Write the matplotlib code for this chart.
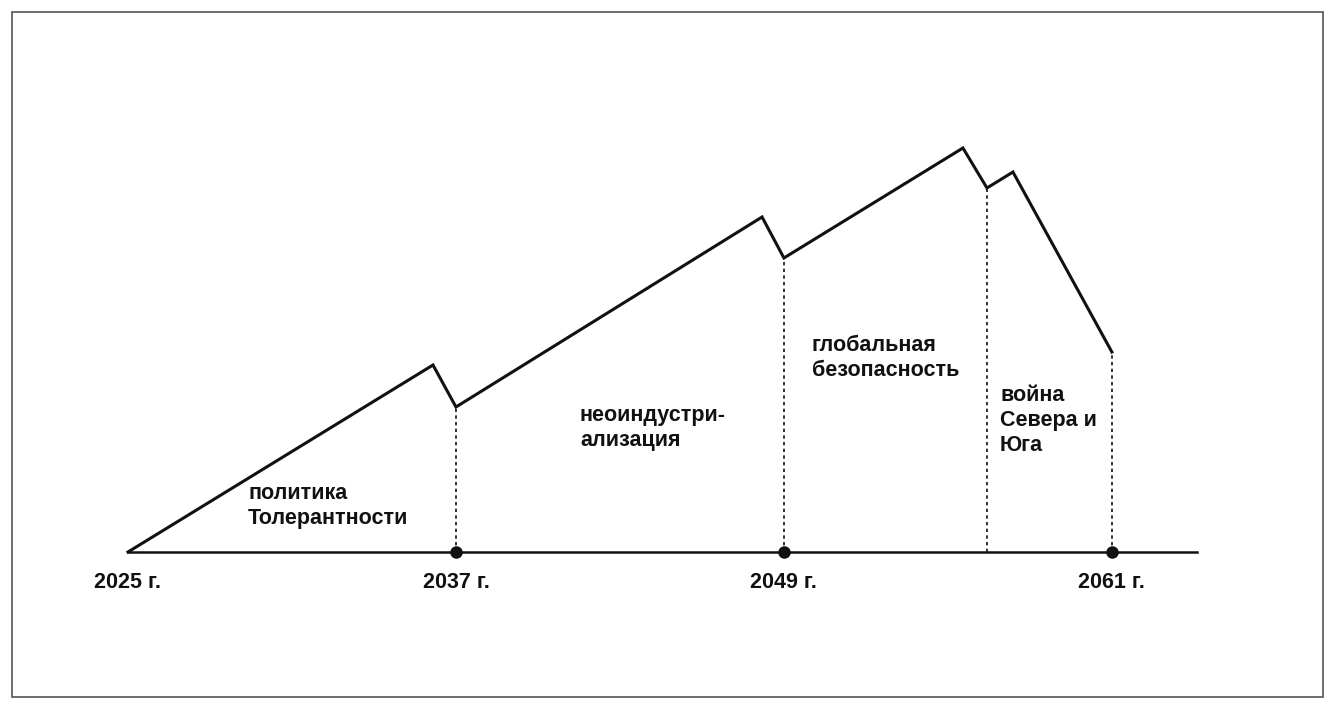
import matplotlib
matplotlib.use("Agg")
import matplotlib.pyplot as plt
from matplotlib.patches import Rectangle

years = [2025, 2036.16, 2037, 2048.2, 2049, 2055.55, 2056.43, 2057.38, 2061]
values = [0, 187, 145, 335, 294, 404, 364, 380, 200]
dotted_years = [2037, 2049, 2056.43, 2061]
dotted_tops = [145, 294, 364, 200]
marker_years = [2037, 2049, 2061]
tick_years = [2025, 2037, 2049, 2061]
tick_labels = ["2025 г.", "2037 г.", "2049 г.", "2061 г."]
phase_labels = ["политика\nТолерантности", "неоиндустри-\nализация",
                "глобальная\nбезопасность", "война\nСевера и\nЮга"]
phase_pos = [(248, 483), (580, 405), (812, 335), (1000, 385)]  # px (left, top)

PX = 27.33
def xd(px): return 2025 + (px - 128) / PX
def yd(py): return 552 - py

fig = plt.figure(figsize=(13.35, 7.09), dpi=100)
ax = fig.add_axes([0, 0, 1, 1])
ax.set_xlim(xd(0), xd(1335))
ax.set_ylim(yd(709), yd(0))
ax.axis("off")
ax.add_patch(Rectangle((xd(12), yd(697)), xd(1323) - xd(12), yd(12) - yd(697),
                       fill=False, edgecolor="#555555", lw=1.2))

ax.plot([2025, xd(1197)], [0, 0], color="#111111", lw=1.8)
ax.plot(years, values, color="#111111", lw=2.2, solid_joinstyle="miter")
for x, t in zip(dotted_years, dotted_tops):
    ax.plot([x, x], [0, t], color="#111111", lw=1.2, ls=(0, (2, 2)))
ax.plot(marker_years, [0] * len(marker_years), "o", color="#111111", ms=8)

font = dict(family="Liberation Sans", fontweight="bold", fontsize=15.5, color="#111111")
for x, lab in zip(tick_years, tick_labels):
    ax.text(x, yd(583), lab, ha="center", va="center", **font)
for lab, (px, py) in zip(phase_labels, phase_pos):
    ax.text(xd(px), yd(py), lab, ha="left", va="top", linespacing=1.25, **font)

fig.savefig("out.png", dpi=100)
